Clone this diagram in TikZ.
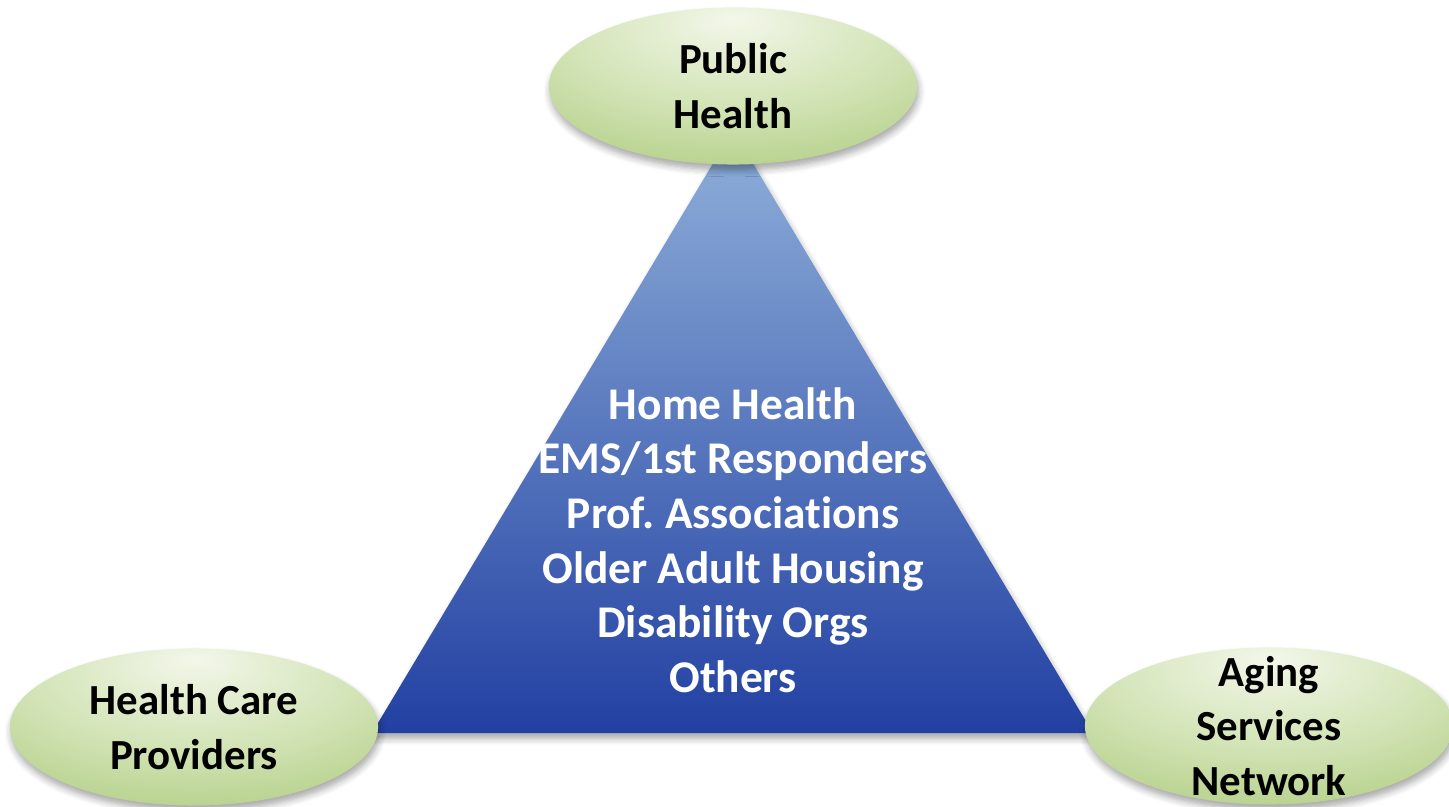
\documentclass[tikz,border=0pt]{standalone}
\usepackage{fontspec}
\setmainfont{Carlito}[Ligatures=NoCommon]
\usetikzlibrary{shapes.geometric,shadows.blur}
\definecolor{leaflight}{HTML}{F3F7EA}
\definecolor{leafmid}{HTML}{D3E4B7}
\definecolor{leafedge}{HTML}{A4C470}
\definecolor{skytop}{HTML}{8FB0DA}
\definecolor{skybottom}{HTML}{2240A2}
\pgfdeclareradialshading{leafglow}{\pgfpoint{0bp}{22bp}}{color(0bp)=(leaflight); color(22bp)=(leafmid); color(50bp)=(leafedge); color(80bp)=(leafedge)}
\tikzset{
	hub/.style={ellipse, shade, shading=leafglow, minimum width=3.68cm, minimum height=1.57cm, inner sep=0pt,
		blur shadow={shadow xshift=0.4pt, shadow yshift=-1.6pt, shadow blur steps=6, shadow opacity=35}},
	hubtext/.style={align=center, font=\fontsize{12.2}{15.5}\selectfont\bfseries},
}
\begin{document}
\begin{tikzpicture}[x=0.01cm,y=-0.01cm]
		\useasboundingbox (0,0) rectangle (1449,807);
		% partner triangle
		\coordinate (apex) at (733,130);
		\coordinate (baseL) at (372,733);
		\coordinate (baseR) at (1093,733);
		\path[top color=skytop, bottom color=skybottom,
			blur shadow={shadow xshift=0.5pt, shadow yshift=-1.6pt, shadow blur steps=6, shadow opacity=35}]
			(apex) -- (baseL) -- (baseR) -- cycle;
		\node[align=center, text=white, font=\fontsize{12.9}{15.5}\selectfont\bfseries] (partners) at (733,540)
			{Home Health\\EMS/1st Responders\\Prof.\ Associations\\Older Adult Housing\\Disability Orgs\\Others};
		% the three sectors
		\node[hub, label={[hubtext]center:Public\\Health}] (pubhealth) at (733,86) {};
		\node[hub, label={[hubtext]center:Health Care\\Providers}] (providers) at (194,727) {};
		\node[hub, label={[hubtext]center:Aging\\Services\\Network}] (aging) at (1269,726) {};
\end{tikzpicture}
\end{document}
